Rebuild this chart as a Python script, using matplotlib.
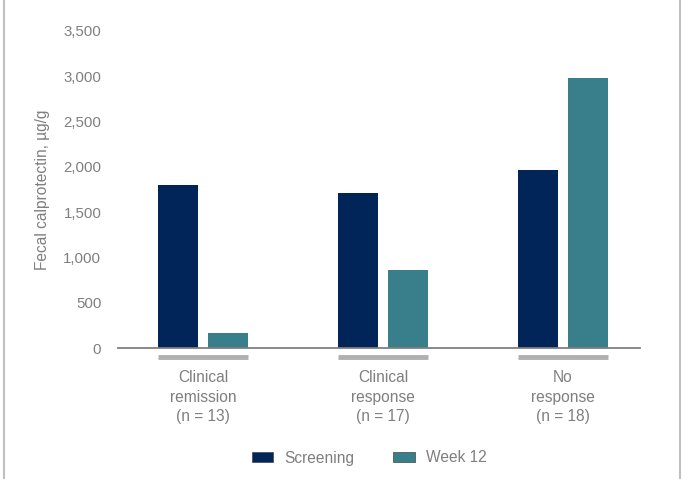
import matplotlib
matplotlib.use("Agg")
import matplotlib.pyplot as plt
import numpy as np
from matplotlib.patches import Patch
from matplotlib.lines import Line2D

categories = ["Clinical\nremission\n(n = 13)", "Clinical\nresponse\n(n = 17)", "No\nresponse\n(n = 18)"]
screening = [1800, 1710, 1960]
week12 = [165, 865, 2980]
series_names = ["Screening", "Week 12"]
yticks = [0, 500, 1000, 1500, 2000, 2500, 3000, 3500]

c_scr = "#022559"
c_w12 = "#397e8b"
gray = "#7f7f7f"

plt.rcParams['font.family'] = ['Liberation Sans', 'DejaVu Sans']

fig = plt.figure(figsize=(6.87, 4.79), dpi=100)
ax = fig.add_axes([118/687, 1-348/479, (640-118)/687, (348-31)/479])

x = np.arange(len(categories))
bw = 0.222
off = 0.139
ax.bar(x - off, screening, bw, color=c_scr)
ax.bar(x + off, week12, bw, color=c_w12)

ax.set_xlim(-0.472, 2.428)
ax.set_ylim(0, 3500)
ax.set_yticks(yticks)
ax.set_yticklabels([f"{v:,}" for v in yticks])
ax.tick_params(axis='y', length=0, labelsize=10.8, labelcolor=gray, pad=12)
ax.set_xticks([])
for s in ["top", "right", "left"]:
    ax.spines[s].set_visible(False)
ax.spines["bottom"].set_color(gray)
ax.spines["bottom"].set_linewidth(1.3)

trans = ax.get_xaxis_transform()
for i, cat in enumerate(categories):
    ax.plot([i - 0.25, i + 0.25], [-0.028, -0.028], transform=trans, color="#b0b0b0",
            lw=3.5, clip_on=False, solid_capstyle='butt')
    ax.text(i, -0.069, cat, transform=trans, ha='center', va='top', fontsize=11.2,
            color=gray, linespacing=1.4)

fig.text(43/687, 1-190/479, "Fecal calprotectin, µg/g", rotation=90, ha='center', va='center',
         fontsize=11.2, color=gray)

handles = [Patch(facecolor=c_scr, edgecolor="#444444", lw=0.5), Patch(facecolor=c_w12, edgecolor="#444444", lw=0.5)]
fig.legend(handles, series_names, loc='center', bbox_to_anchor=(369/687, 1-458/479), ncol=2,
           frameon=False, fontsize=11.2, labelcolor=gray, handlelength=1.4, handleheight=0.55,
           columnspacing=2.5, handletextpad=0.7)

# figure side borders
fig.add_artist(Line2D([4/687, 4/687], [0, 1], transform=fig.transFigure, color="#c0c0c0", lw=1.5))
fig.add_artist(Line2D([680/687, 680/687], [0, 1], transform=fig.transFigure, color="#c0c0c0", lw=1.5))

fig.savefig("out.png", dpi=100)
